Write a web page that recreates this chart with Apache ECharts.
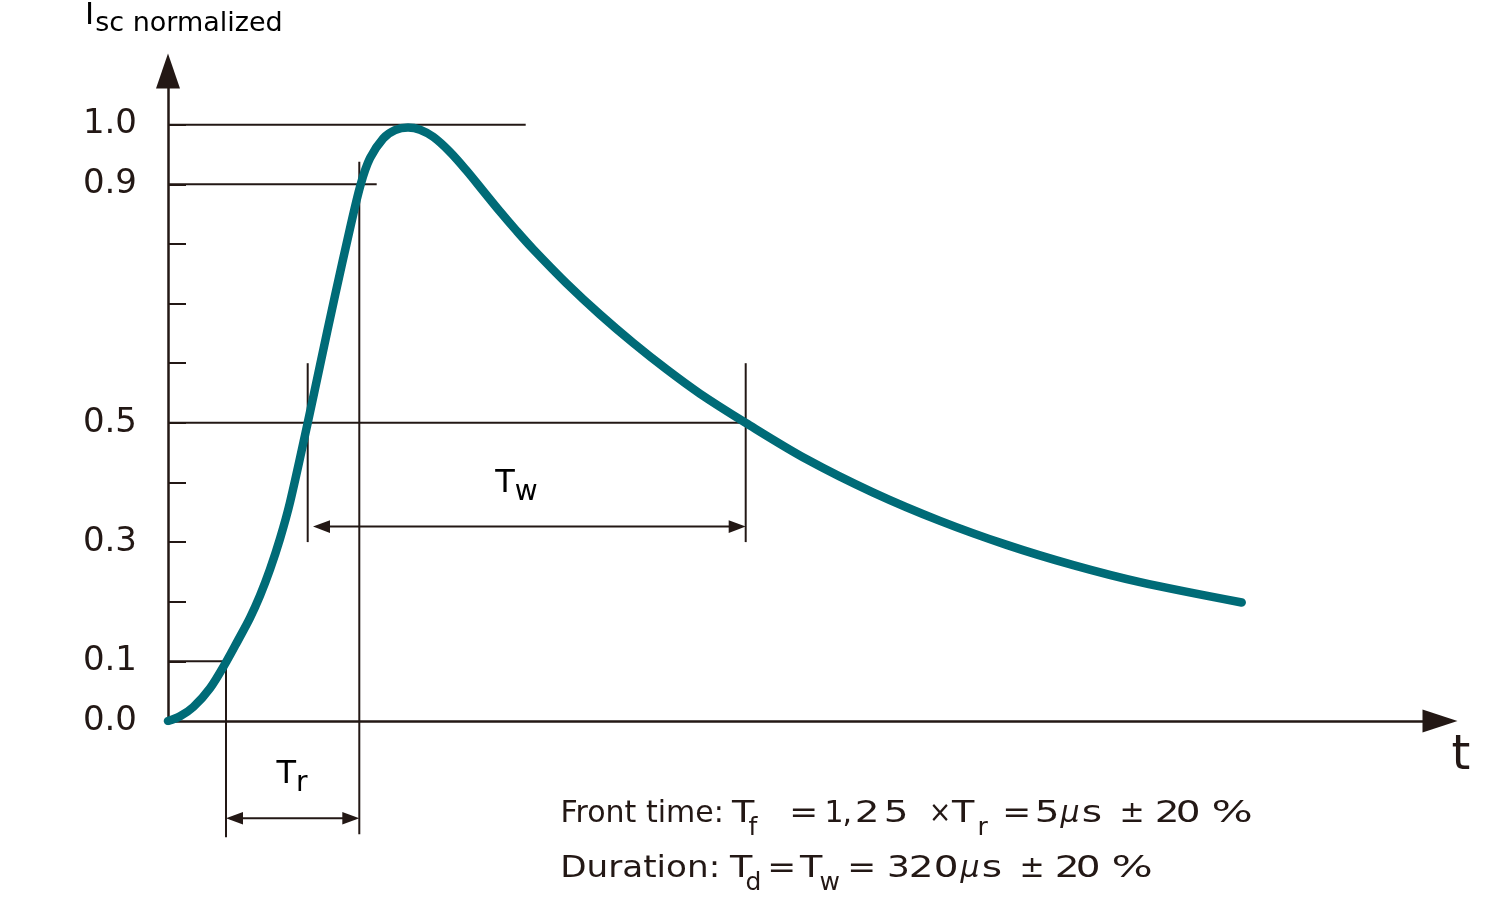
<!DOCTYPE html>
<html><head><meta charset="utf-8">
<script src="https://cdn.jsdelivr.net/npm/echarts@6/dist/echarts.min.js"></script>
<style>html,body{margin:0;padding:0;background:#fff}#c{width:1500px;height:907px}</style>
</head><body><div id="c"></div>
<script>
const FONT = '"DejaVu Sans", "Noto Sans", sans-serif';
const INK = '#231815';
const TEAL = '#006b77';

// Surge current waveform (time in arbitrary units, current normalized to peak)
const curveT = [0, 12, 25.3, 42, 58.5, 70, 82, 92, 102, 112, 122, 139.7, 152, 167, 182, 192.7, 202, 215.3, 227, 240,
  252, 265.3, 282, 298.7, 315, 332, 348.7, 365.3, 398.7, 432, 465.3, 498.7, 532, 577.7,
  638.7, 705.3, 772, 838.7, 905.3, 972, 1073.7];
const curveI = [0, 0.0079, 0.0235, 0.0550, 0.1, 0.1352, 0.1729, 0.2102, 0.2542, 0.3056, 0.3666, 0.5, 0.5965, 0.7134, 0.8259, 0.9, 0.9437, 0.9770, 0.9908, 0.9951,
  0.9916, 0.9794, 0.9542, 0.9227, 0.8892, 0.8543, 0.8217, 0.7909, 0.7337, 0.6817, 0.6339, 0.5896, 0.5489, 0.5,
  0.4389, 0.3830, 0.3356, 0.2953, 0.2613, 0.2328, 0.1987];

const yTickValues = [0.1, 0.2, 0.3, 0.4, 0.5, 0.6, 0.7, 0.8, 0.9, 1.0];
const yLabelValues = [0, 0.1, 0.3, 0.5, 0.9, 1.0];
const xMax = 1272;
const yMax = 1.09;

// guide segments [t1, i1, t2, i2]
const guideSegments = [
  [0, 1.0, 357.7, 1.0],
  [0, 0.9, 208.7, 0.9],
  [0, 0.5, 577.7, 0.5],
  [0, 0.1, 58, 0.1],
  [58, 0.1, 58, -0.195],
  [191.3, 0.938, 191.3, -0.19],
  [139.7, 0.6, 139.7, 0.3],
  [577.7, 0.6, 577.7, 0.3]
];

// dimension arrows (Tr, Tw)
const dimFrom = [58, 145];
const dimTo = [191.3, 577.7];
const dimY = [-0.163, 0.326];
const dimLabelX = [124, 348.5];
const dimMain = ['T', 'T'];
const dimSub = ['r', 'w'];

// footnote text pieces
const foot1Text = ['Front time:', 'T', 'f', '=', '1', ',', '2', '5', '×', 'T', 'r', '=', '5', 'μ', 's', '±', '2', '0', '%'];
const foot1Kind = ['m', 'm', 's', 'm', 'm', 'm', 'm', 'm', 'm', 'm', 's', 'm', 'm', 'mu', 'm', 'm', 'm', 'm', 'm'];
const foot2Text = ['Duration:', 'T', 'd', '=', 'T', 'w', '=', '3', '2', '0', 'μ', 's', '±', '2', '0', '%'];
const foot2Kind = ['m', 'm', 's', 'm', 'm', 's', 'm', 'm', 'm', 'm', 'mu', 'm', 'm', 'm', 'm', 'm'];

// layout: glyph left edges (px) and horizontal stretch per piece
const foot1X = [563, 735, 751, 792, 827, 845, 858, 887, 931, 955, 980, 1005, 1038, 1063, 1085, 1122, 1158, 1179, 1215];
const foot1Sx = [1, 1.22, 1, 1.15, 1, 1, 1.3, 1.3, 0.9, 1.22, 1, 1.15, 1.3, 1, 1.3, 1, 1.3, 1.3, 1.45];
const foot2X = [563, 733, 748, 770, 803, 822, 850, 890, 912, 937, 963, 985, 1022, 1058, 1079, 1115];
const foot2Sx = [1.14, 1.22, 1, 1.15, 1.22, 1, 1.15, 1.2, 1.3, 1.3, 1, 1.3, 1, 1.3, 1.3, 1.45];
const footMainY = [814.6, 869.6];
const footSubY = [828, 883];

function footPieces(texts, kinds, xs, sxs, row) {
  return texts.map((t, i) => {
    const k = kinds[i];
    return {
      type: 'text', silent: true, x: xs[i] - 2.5 * sxs[i], y: k === 's' ? footSubY[row] : footMainY[row],
      scaleX: sxs[i], scaleY: 1,
      style: {
        text: t, fill: INK, fontFamily: FONT,
        fontSize: k === 's' ? 25 : 30,
        fontStyle: k === 'mu' ? 'italic' : 'normal',
        align: 'left', verticalAlign: 'middle', textAlign: 'left', textVerticalAlign: 'middle'
      }
    };
  });
}

const chart = echarts.init(document.getElementById('c'));
chart.setOption({
  animation: false,
  backgroundColor: '#ffffff',
  grid: { left: 168, right: 60, top: 71, bottom: 186, containLabel: false, outerBoundsMode: 'none' },
  xAxis: {
    type: 'value', min: 0, max: xMax,
    axisLine: { show: true, symbol: ['none', 'triangle'], symbolSize: [23, 35], lineStyle: { color: INK, width: 2.5 } },
    axisTick: { show: false }, axisLabel: { show: false }, splitLine: { show: false }
  },
  yAxis: {
    type: 'value', min: 0, max: yMax,
    axisLine: { show: true, symbol: ['none', 'triangle'], symbolSize: [24, 35], lineStyle: { color: INK, width: 2.5 } },
    axisTick: { show: true, inside: true, length: 18, customValues: yTickValues, lineStyle: { color: INK, width: 2 } },
    axisLabel: {
      show: true, customValues: yLabelValues, margin: 31,
      formatter: v => v.toFixed(1),
      fontSize: 34, fontFamily: FONT, color: INK
    },
    splitLine: { show: false }
  },
  graphic: [
    { type: 'text', x: 85, y: 0, silent: true,
      style: { text: '{I|I}{s|sc normalized}', align: 'left', verticalAlign: 'top', textAlign: 'left', textVerticalAlign: 'top',
        rich: {
          I: { fontSize: 31, lineHeight: 32, verticalAlign: 'top', fontFamily: FONT, color: INK },
          s: { fontSize: 27, lineHeight: 32, verticalAlign: 'top', padding: [10, 0, 0, 1], fontFamily: FONT, color: INK }
        } } },
    { type: 'text', x: 1461, y: 756.4, silent: true,
      style: { text: 't', fontSize: 48, fontFamily: FONT, fill: INK, align: 'center', verticalAlign: 'middle', textAlign: 'center', textVerticalAlign: 'middle' } }
  ].concat(footPieces(foot1Text, foot1Kind, foot1X, foot1Sx, 0), footPieces(foot2Text, foot2Kind, foot2X, foot2Sx, 1)),
  series: [
    {
      type: 'custom', name: 'guides', silent: true, z: 2,
      encode: { x: [0, 2], y: [1, 3] },
      data: guideSegments,
      renderItem: (params, api) => {
        const p1 = api.coord([api.value(0), api.value(1)]);
        const p2 = api.coord([api.value(2), api.value(3)]);
        return { type: 'line', shape: { x1: p1[0], y1: p1[1], x2: p2[0], y2: p2[1] },
          style: { stroke: INK, lineWidth: 2 } };
      }
    },
    {
      type: 'custom', name: 'dimensions', silent: true, z: 2,
      encode: { x: [0, 1, 3], y: 2 },
      data: dimFrom.map((f, i) => [f, dimTo[i], dimY[i], dimLabelX[i]]),
      renderItem: (params, api) => {
        const a = api.coord([api.value(0), api.value(2)]);
        const b = api.coord([api.value(1), api.value(2)]);
        const lbl = api.coord([api.value(3), api.value(2)]);
        const L = 17, H = 6.3;
        const i = params.dataIndex;
        return {
          type: 'group',
          children: [
            { type: 'line', shape: { x1: a[0] + 4, y1: a[1], x2: b[0] - 4, y2: b[1] }, style: { stroke: INK, lineWidth: 2 } },
            { type: 'polygon', shape: { points: [[a[0], a[1]], [a[0] + L, a[1] - H], [a[0] + L, a[1] + H]] }, style: { fill: INK } },
            { type: 'polygon', shape: { points: [[b[0], b[1]], [b[0] - L, b[1] - H], [b[0] - L, b[1] + H]] }, style: { fill: INK } },
            { type: 'text', x: lbl[0], y: lbl[1] - 59.3,
              style: { text: '{m|' + dimMain[i] + '}{s|' + dimSub[i] + '}',
                align: 'center', verticalAlign: 'top', textAlign: 'center', textVerticalAlign: 'top',
                rich: {
                  m: { fontSize: 32, lineHeight: 36, verticalAlign: 'top', fontFamily: FONT, color: INK },
                  s: { fontSize: 28, lineHeight: 36, verticalAlign: 'top', padding: [11, 0, 0, 0], fontFamily: FONT, color: INK }
                } } }
          ]
        };
      }
    },
    {
      type: 'line', name: 'Isc normalized', z: 3,
      data: curveT.map((t, i) => [t, curveI[i]]),
      smooth: 0.33, symbol: 'none',
      lineStyle: { color: TEAL, width: 8.5, cap: 'round', join: 'round' }
    }
  ]
});
</script>
</body></html>
